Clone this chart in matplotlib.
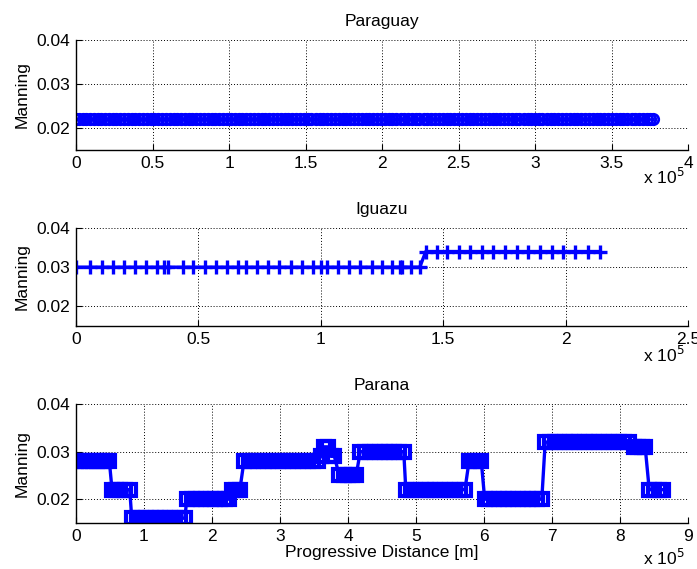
import numpy as np
import matplotlib
matplotlib.use('Agg')
import matplotlib.pyplot as plt
from matplotlib.ticker import FuncFormatter

# distances in km, Manning n values
paraguay_km = [0, 2.1, 4.5, 6.8, 9.0, 11.6, 14.2, 16.5, 19.1, 21.4, 24.0, 26.2, 28.9, 31.5,
               33.7, 36.4, 38.8, 41.3, 43.5, 46.2, 48.9, 51.0, 53.6, 56.3, 58.5, 61.2, 63.9,
               66.1, 68.7, 71.4, 73.8, 76.0, 78.7, 81.3, 83.5, 86.2, 88.9, 91.0, 93.7, 96.4,
               98.8, 101.2, 103.9, 106.3, 108.6, 111.3, 114.0, 116.2, 118.9, 121.5, 123.8,
               126.4, 129.0, 131.3, 133.9, 136.6, 138.8, 141.5, 144.1, 146.4, 149.0, 151.7,
               153.9, 156.6, 159.2, 161.5, 164.1, 166.8, 169.0, 171.7, 174.3, 176.6, 179.2,
               181.9, 184.1, 186.8, 189.4, 191.7, 194.3, 197.0, 199.2, 201.9, 204.5, 206.8,
               209.4, 212.1, 214.3, 217.0, 219.6, 221.9, 224.5, 227.2, 229.4, 232.1, 234.7,
               237.0, 239.6, 242.3, 244.5, 247.2, 249.8, 252.1, 254.7, 257.4, 259.6, 262.3,
               264.9, 267.2, 269.8, 272.5, 274.7, 277.4, 280.0, 282.3, 284.9, 287.6, 289.8,
               292.5, 295.1, 297.4, 300.0, 302.7, 304.9, 307.6, 310.2, 312.5, 315.1, 317.8,
               320.0, 322.7, 325.3, 327.6, 330.2, 332.9, 335.1, 337.8, 340.4, 342.7, 345.3,
               348.0, 350.2, 352.9, 355.5, 357.8, 360.4, 363.1, 365.3, 368.0, 370.6, 372.9,
               375.1, 377.0]
paraguay_n = [0.022] * len(paraguay_km)

iguazu_km = [0, 5.7, 10.6, 15.1, 19.6, 24.1, 28.6, 33.1, 35.9, 37.6, 43.7, 47.8, 52.7, 57.1,
             61.6, 66.1, 69.4, 73.9, 78.4, 82.9, 87.8, 92.2, 96.7, 100.0, 102.4, 106.9, 111.4,
             115.9, 120.8, 124.9, 129.0, 132.2, 133.1, 136.7, 140.4,
             142.9, 147.3, 151.4, 156.3, 160.8, 165.7, 170.2, 175.1, 180.0, 184.5, 189.4,
             194.3, 198.8, 203.7, 209.0, 213.9]
iguazu_n = [0.030] * 35 + [0.034] * 16

parana_km = [0, 6, 13, 19, 25, 31, 37, 43, 49,
             53, 59, 65, 72, 79,
             82, 89, 96, 103, 110, 117, 124, 131, 138, 146, 153, 160,
             163, 170, 177, 184, 191, 198, 205, 212, 219, 225,
             229, 235, 241,
             247, 254, 261, 268, 276, 283, 290, 297, 305, 312, 319, 326, 334, 341, 349, 356,
             360, 365, 370, 375, 380,
             387, 394, 400, 406, 412,
             418, 425, 432, 440, 447, 454, 461, 468, 475, 482,
             485, 492, 499, 507, 514, 521, 528, 536, 543, 550, 557, 565, 572,
             578, 584, 590, 596,
             601, 608, 615, 622, 629, 636, 643, 650, 657, 664, 671, 678, 685,
             690, 697, 704, 711, 719, 726, 733, 740, 748, 755, 762, 769, 777, 784, 791, 798,
             806, 813,
             820, 826, 832, 837,
             843, 850, 857, 863]
parana_n = ([0.028] * 9 + [0.022] * 5 + [0.016] * 12 + [0.020] * 10 + [0.022] * 3 +
            [0.028] * 16 + [0.029, 0.031, 0.031, 0.029, 0.029] + [0.025] * 5 +
            [0.030] * 10 + [0.022] * 13 + [0.028] * 4 + [0.020] * 13 + [0.032] * 18 +
            [0.031] * 4 + [0.022] * 4)

plt.rcParams.update({'font.family': 'Liberation Sans',
                     'font.size': 12.5,
                     'axes.linewidth': 1.0,
                     'xtick.direction': 'in',
                     'ytick.direction': 'in',
                     'xtick.major.size': 4,
                     'ytick.major.size': 4})

fig = plt.figure(figsize=(6.97, 5.69), dpi=100)
W, H = 697.0, 569.0

def make_axes(top, bottom):
    return fig.add_axes([76 / W, 1 - bottom / H, 612 / W, (bottom - top) / H])

def style(ax, xmax, xticks, title):
    ax.set_xlim(0, xmax)
    ax.set_ylim(0.015, 0.04)
    ax.set_yticks([0.02, 0.03, 0.04])
    ax.set_yticklabels(['0.02', '0.03', '0.04'])
    ax.set_xticks(xticks)
    ax.xaxis.set_major_formatter(FuncFormatter(lambda v, p: '%g' % (v / 1e5)))
    ax.spines['top'].set_visible(False)
    ax.spines['right'].set_visible(False)
    ax.grid(True, color='k', linestyle=(0, (1, 2)), linewidth=0.7)
    ax.set_axisbelow(True)
    ax.set_title(title, fontsize=12.5, pad=10)
    ax.set_ylabel('Manning', labelpad=5)
    ax.tick_params(top=False, right=False, pad=4)

def scale_note(ax, y):
    ax.text(0.995, y, r'x 10$^{5}$', transform=ax.transAxes, ha='right', va='baseline')

blue = '#0000ff'

ax1 = make_axes(40, 150)
ax1.plot(np.array(paraguay_km) * 1000, paraguay_n, '-o', color=blue, lw=2,
         ms=7.5, mew=2.0, mfc='none')
style(ax1, 4e5, np.arange(0, 4.01e5, 0.5e5), 'Paraguay')
scale_note(ax1, -0.31)

ax2 = make_axes(228, 326)
ax2.plot(np.array(iguazu_km) * 1000, iguazu_n, '-+', color=blue, lw=2.4,
         ms=10, mew=2.4)
style(ax2, 2.5e5, np.arange(0, 2.51e5, 0.5e5), 'Iguazu')
scale_note(ax2, -0.37)

ax3 = make_axes(404, 523)
ax3.plot(np.array(parana_km) * 1000, parana_n, '-s', color=blue, lw=2.4,
         ms=8.5, mew=3.0, mfc='none')
style(ax3, 9e5, np.arange(0, 9.01e5, 1e5), 'Parana')
ax3.set_xlabel('Progressive Distance [m]', labelpad=1)
scale_note(ax3, -0.355)

fig.savefig('out.png', dpi=100)
